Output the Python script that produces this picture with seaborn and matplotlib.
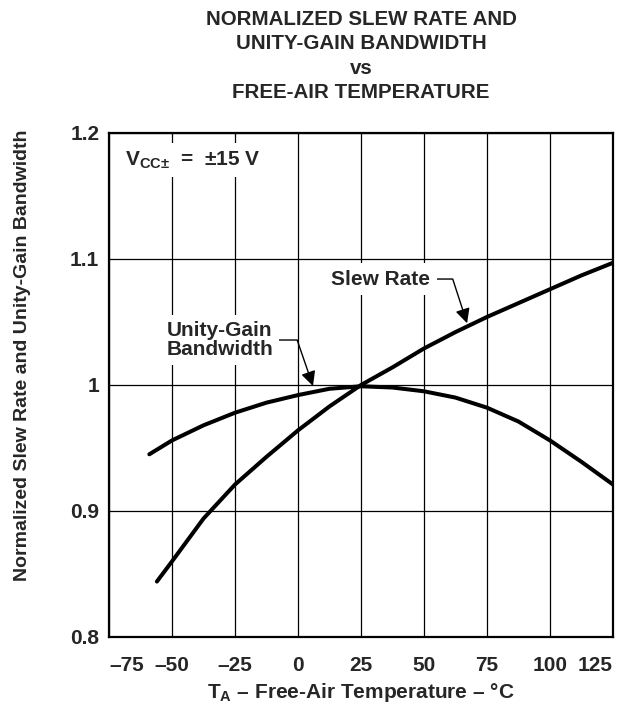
"""Normalized slew rate and unity-gain bandwidth vs free-air temperature."""

import matplotlib
matplotlib.use("Agg")
import matplotlib.pyplot as plt
import numpy as np
import pandas as pd
import seaborn as sns

# ---------------------------------------------------------------------------
# Data

bw_temp = [-59, -50, -37.5, -25, -12.5, 0, 12.5, 25, 37.5, 50, 62.5, 75, 87.5, 100, 112.5, 125]
bw_norm = [0.945, 0.956, 0.968, 0.978, 0.986, 0.992, 0.997, 0.999, 0.998, 0.995,
           0.990, 0.982, 0.971, 0.956, 0.939, 0.921]

sr_temp = [-56, -50, -37.5, -25, -12.5, 0, 12.5, 25, 37.5, 50, 62.5, 75, 87.5, 100, 112.5, 125]
sr_norm = [0.844, 0.860, 0.894, 0.921, 0.943, 0.964, 0.983, 1.000, 1.014, 1.029,
           1.042, 1.054, 1.065, 1.076, 1.087, 1.097]

x_ticks = [-75, -50, -25, 0, 25, 50, 75, 100, 125]
x_tick_labels = ["–75", "–50", "–25", "0", "25", "50", "75", "100", "125"]
y_ticks = [0.8, 0.9, 1.0, 1.1, 1.2]
y_tick_labels = ["0.8", "0.9", "1", "1.1", "1.2"]

title_lines = ["NORMALIZED SLEW RATE AND", "UNITY-GAIN BANDWIDTH", "vs", "FREE-AIR TEMPERATURE"]

# ---------------------------------------------------------------------------

sns.set_theme(style="white")
plt.rcParams["font.family"] = ["Liberation Sans", "DejaVu Sans"]
plt.rcParams["font.weight"] = "bold"
plt.rcParams["mathtext.fontset"] = "custom"
plt.rcParams["mathtext.rm"] = "Liberation Sans:bold"
plt.rcParams["mathtext.bf"] = "Liberation Sans:bold"
plt.rcParams["mathtext.default"] = "bf"

df = pd.concat([
    pd.DataFrame({"temp": bw_temp, "value": bw_norm, "curve": "Unity-Gain Bandwidth"}),
    pd.DataFrame({"temp": sr_temp, "value": sr_norm, "curve": "Slew Rate"}),
])

fig = plt.figure(figsize=(6.34, 7.1), dpi=100)
ax = fig.add_axes([109 / 634, 73 / 710, 504 / 634, 504 / 710])

sns.lineplot(data=df, x="temp", y="value", units="curve", estimator=None,
             color="black", linewidth=2.9, sort=False, ax=ax, zorder=3,
             solid_capstyle="round")

ax.set_xlim(-75, 125)
ax.set_ylim(0.8, 1.2)
ax.set_xticks(x_ticks)
ax.set_xticklabels(x_tick_labels)
ax.set_yticks(y_ticks)
ax.set_yticklabels(y_tick_labels)
ax.tick_params(axis="x", length=0, pad=14, labelsize=15)
ax.tick_params(axis="y", length=0, pad=7, labelsize=15)
for lbl in ax.get_xticklabels() + ax.get_yticklabels():
    lbl.set_fontweight("bold")
xt = ax.get_xticklabels()
xt[0].set_ha("left")
xt[-1].set_ha("right")
ax.grid(True, color="black", linewidth=0.9)
for s in ax.spines.values():
    s.set_color("black")
    s.set_linewidth(1.6)
    s.set_zorder(4)

ax.set_xlabel(r"T$_\mathregular{A}$ – Free-Air Temperature – °C",
              fontsize=15, fontweight="bold", va="center")
ax.xaxis.set_label_coords(0.5, (637 - 692) / 504)
ax.set_ylabel("Normalized Slew Rate and Unity-Gain Bandwidth",
              fontsize=14, fontweight="bold", va="center")
ax.yaxis.set_label_coords((23 - 109) / 504, (637 - 355) / 504)

fig.text(361 / 634, 1 - 10 / 710, "\n".join(title_lines), ha="center", va="top",
         fontsize=14.8, fontweight="bold", linespacing=1.36)

box = dict(boxstyle="square,pad=0.3", fc="white", ec="none")
ax.text(-68.7, 1.1786, r"V$_\mathregular{CC±}$  =  ±15 V", ha="left", va="center",
        fontsize=15, fontweight="bold", bbox=box, zorder=5)

arrow = dict(arrowstyle="-|>", color="black", lw=1.0, mutation_scale=22,
             shrinkA=0, shrinkB=0)
ax.annotate("Slew Rate", xy=(67.1, 1.049), xytext=(32.9, 1.0841),
            ha="center", va="center", fontsize=15, fontweight="bold",
            bbox=box, zorder=5,
            arrowprops=dict(arrow, connectionstyle="angle,angleA=0,angleB=108,rad=0"))
ax.annotate("Unity-Gain\nBandwidth", xy=(5.95, 0.9992), xytext=(-31.1, 1.0357),
            ha="center", va="center", fontsize=15, fontweight="bold",
            linespacing=1.0, bbox=box, zorder=5,
            arrowprops=dict(arrow, connectionstyle="angle,angleA=0,angleB=109,rad=0"))

fig.savefig("out.png", dpi=100)
